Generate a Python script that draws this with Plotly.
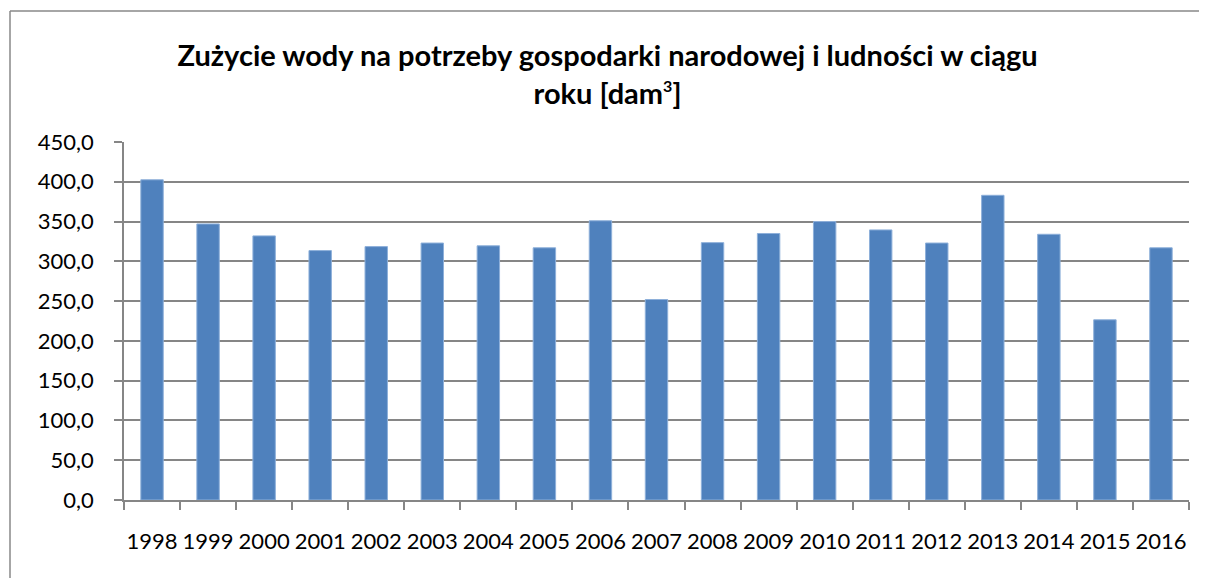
import plotly.graph_objects as go

years = ["1998", "1999", "2000", "2001", "2002", "2003", "2004", "2005", "2006", "2007",
         "2008", "2009", "2010", "2011", "2012", "2013", "2014", "2015", "2016"]
values = [402.5, 347.0, 332.0, 313.5, 318.5, 323.0, 319.5, 317.0, 351.0, 252.0,
          323.5, 335.0, 350.0, 339.5, 323.0, 383.0, 334.0, 226.5, 317.0]
y_ticks = [0, 50, 100, 150, 200, 250, 300, 350, 400, 450]
y_tick_labels = ["0,0", "50,0", "100,0", "150,0", "200,0", "250,0", "300,0", "350,0", "400,0", "450,0"]

# page body has an 8px default margin; compensate so the screen positions match
OFF = 8
W, H = 1207 - OFF, 578 - OFF
L, R, T, B = 124 - OFF, 18, 142 - OFF, 78
pw, ph = W - L - R, H - T - B

def px_x(x):
    return (x - OFF - L) / pw

def px_y(y):
    return (H - B - (y - OFF)) / ph

fig = go.Figure(go.Bar(
    x=years, y=values,
    marker=dict(color="#4F81BD", line=dict(color="#8EB0DA", width=1)),
))

fig.update_layout(
    width=W, height=H,
    margin=dict(l=L, r=R, t=T, b=B, autoexpand=False),
    paper_bgcolor="white", plot_bgcolor="white",
    bargap=0.6,
    showlegend=False,
    font=dict(family="Lato, Open Sans, sans-serif", color="black"),
    title=dict(
        text="<b>Zużycie wody na potrzeby gospodarki narodowej i ludności w ciągu<br>roku [dam<sup><span style='font-size:16px'>3</span></sup>]</b>",
        x=0.5, xanchor="center", xref="container",
        y=1 - 58 / H, yanchor="middle",
        font=dict(size=29, family="Lato, Open Sans, sans-serif", color="black"),
    ),
    xaxis=dict(
        type="category", automargin=False,
        showline=True, linecolor="#868686", linewidth=1.5,
        ticks="outside", tickson="boundaries", ticklen=8, tickcolor="#868686", tickwidth=1.5,
        tickfont=dict(size=22), tickangle=0, ticklabelstandoff=21,
        showgrid=False,
    ),
    yaxis=dict(
        range=[0, 450], automargin=False,
        tickvals=y_ticks, ticktext=y_tick_labels,
        showline=True, linecolor="#868686", linewidth=1.5,
        ticks="outside", ticklen=8, tickcolor="#868686", tickwidth=1.5,
        tickfont=dict(size=22), ticklabelstandoff=16,
        showgrid=True, gridcolor="#868686", gridwidth=1.5,
        zeroline=False,
    ),
    shapes=[
        dict(type="line", xref="paper", yref="paper",
             x0=px_x(10), x1=px_x(10), y0=px_y(11), y1=px_y(600),
             line=dict(color="#898989", width=1.5)),
        dict(type="line", xref="paper", yref="paper",
             x0=px_x(10), x1=px_x(1220), y0=px_y(11), y1=px_y(11),
             line=dict(color="#898989", width=1.5)),
    ],
)

fig.write_html("out.html")
